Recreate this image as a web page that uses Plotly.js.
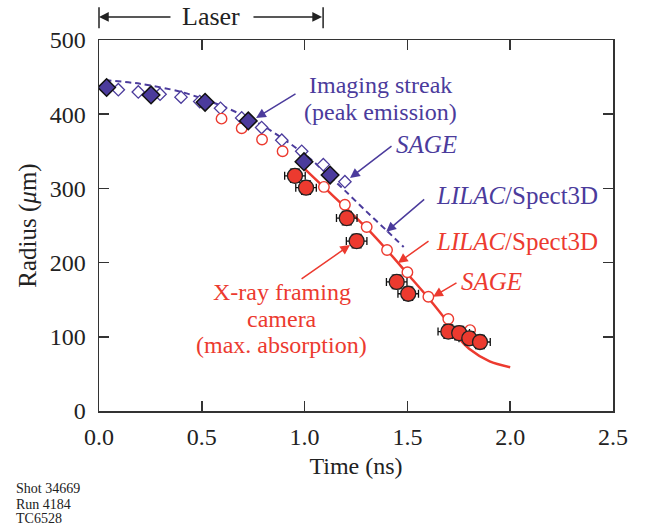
<!DOCTYPE html>
<html><head><meta charset="utf-8">
<script src="https://cdn.plot.ly/plotly-3.0.1.min.js"></script>
<style>body{margin:0;background:#fff}</style>
</head><body><div id="chart" style="width:647px;height:526px"></div>
<script>
// Imaging streak (peak emission) - filled diamonds
const streakTime = [0.037, 0.253, 0.516, 0.726, 0.997, 1.124];
const streakRadius = [436, 426, 416, 391, 336, 318];
// SAGE (blue, open diamonds)
const sageBlueTime = [0.094, 0.191, 0.297, 0.399, 0.49, 0.591, 0.694, 0.791, 0.889, 0.986, 1.091, 1.196];
const sageBlueRadius = [433, 430, 427, 423, 417, 408, 395, 382, 365, 350, 332, 309];
// LILAC/Spect3D (blue dashed)
const lilacBlueTime = [0.03, 0.2, 0.4, 0.6, 0.8, 1.0, 1.1, 1.2, 1.3, 1.4, 1.482];
const lilacBlueRadius = [446, 441, 430, 411, 384, 346, 322, 296, 269, 243, 221];
// SAGE (red, open circles)
const sageRedTime = [0.596, 0.694, 0.793, 0.893, 1.094, 1.196, 1.302, 1.401, 1.5, 1.602, 1.699, 1.805];
const sageRedRadius = [394, 381, 366, 350, 302, 278, 248, 217, 187, 154, 124, 109];
// LILAC/Spect3D (red solid)
const lilacRedTime = [0.99, 1.1, 1.2, 1.3, 1.4, 1.5, 1.6, 1.7, 1.75, 1.8, 1.9, 2.0];
const lilacRedRadius = [329, 300, 274, 247, 217, 185, 153, 118, 98, 84, 67, 59];
// X-ray framing camera (max. absorption) - filled circles with error bars
const xrayTime = [0.953, 1.007, 1.205, 1.253, 1.448, 1.504, 1.699, 1.752, 1.801, 1.853];
const xrayRadius = [317, 301, 260, 229, 174, 158, 107, 105, 98, 93];
const xrayTimeErr = [0.05, 0.05, 0.05, 0.05, 0.05, 0.05, 0.05, 0.05, 0.05, 0.05];
const xrayRadiusErr = [9, 9, 9, 9, 9, 9, 9, 9, 9, 9];

const BLUE = '#4B3B9C';
const RED = '#EC3A2F';
const FONT = 'Liberation Serif, Times New Roman, serif';

const traces = [
  {x: lilacBlueTime, y: lilacBlueRadius, mode: 'lines', type: 'scatter',
   line: {color: BLUE, width: 2, dash: '6px,4px', shape: 'spline', smoothing: 0.8}, hoverinfo: 'skip'},
  {x: lilacRedTime, y: lilacRedRadius, mode: 'lines', type: 'scatter',
   line: {color: RED, width: 2.5, shape: 'spline', smoothing: 0.8}, hoverinfo: 'skip'},
  {x: sageBlueTime, y: sageBlueRadius, mode: 'markers', type: 'scatter',
   marker: {symbol: 'diamond', size: 9.5, color: '#fff', line: {color: BLUE, width: 1.3}}},
  {x: sageRedTime, y: sageRedRadius, mode: 'markers', type: 'scatter',
   marker: {symbol: 'circle', size: 10.5, color: '#fff', line: {color: RED, width: 1.4}}},
  {x: streakTime, y: streakRadius, mode: 'markers', type: 'scatter',
   marker: {symbol: 'diamond', size: 13.5, color: BLUE, line: {color: '#111', width: 1.5}}},
  {x: xrayTime, y: xrayRadius, mode: 'markers', type: 'scatter',
   error_x: {type: 'data', array: xrayTimeErr, color: '#111', thickness: 1.3, width: 4},
   error_y: {type: 'data', array: xrayRadiusErr, color: '#111', thickness: 1.3, width: 5},
   marker: {symbol: 'circle', size: 15, color: RED, line: {color: '#222', width: 1.3}}}
];

function arrow(x, y, ax, ay, color) {
  return {x: x, y: y, ax: ax, ay: ay, xref: 'x', yref: 'y', axref: 'x', ayref: 'y',
    text: '', showarrow: true, arrowhead: 2, arrowsize: 1.3, arrowwidth: 1.5, arrowcolor: color};
}
function label(x, y, text, color, size) {
  return {x: x, y: y, xref: 'x', yref: 'y', text: text, showarrow: false,
    xanchor: 'center', yanchor: 'middle', font: {family: FONT, size: size || 25, color: color}};
}

const annotations = [
  arrow(0.764, 395, 0.963, 428.6, BLUE),
  label(1.367, 440, 'Imaging streak', BLUE, 24),
  label(1.367, 403.6, '(peak emission)', BLUE, 24),
  arrow(1.221, 314, 1.43, 358.5, BLUE),
  label(1.595, 358.5, '<i>SAGE</i>', BLUE),
  arrow(1.397, 241.6, 1.589, 287, BLUE),
  label(2.033, 291, '<i>LILAC</i>/Spect3D', BLUE),
  arrow(1.454, 199.5, 1.61, 230.5, RED),
  label(2.033, 229, '<i>LILAC</i>/Spect3D', RED),
  arrow(1.625, 154, 1.746, 174, RED),
  label(1.911, 174, '<i>SAGE</i>', RED),
  arrow(1.221, 223.7, 0.978, 176.5, RED),
  label(0.89, 160.4, 'X-ray framing', RED, 24),
  label(0.89, 124.5, 'camera', RED, 24),
  label(0.89, 88.5, '(max. absorption)', RED, 24),
  // Laser arrows
  {x: 0.0, y: 1.062, xref: 'x', yref: 'paper', ax: 0.355, ay: 0, axref: 'x', ayref: 'pixel',
   text: '', showarrow: true, arrowhead: 2, arrowsize: 1.3, arrowwidth: 1.5, arrowcolor: '#222'},
  {x: 1.085, y: 1.062, xref: 'x', yref: 'paper', ax: 0.744, ay: 0, axref: 'x', ayref: 'pixel',
   text: '', showarrow: true, arrowhead: 2, arrowsize: 1.3, arrowwidth: 1.5, arrowcolor: '#222'},
  {x: 0.545, y: 1.062, xref: 'x', yref: 'paper', text: 'Laser', showarrow: false,
   xanchor: 'center', yanchor: 'middle', font: {family: FONT, size: 26, color: '#222'}},
  // run info
  {x: -0.165, y: -0.2102, xref: 'paper', yref: 'paper', text: 'Shot 34669', showarrow: false,
   xanchor: 'left', yanchor: 'middle', font: {family: FONT, size: 14, color: '#222'}},
  {x: -0.165, y: -0.2507, xref: 'paper', yref: 'paper', text: 'Run 4184', showarrow: false,
   xanchor: 'left', yanchor: 'middle', font: {family: FONT, size: 14, color: '#222'}},
  {x: -0.165, y: -0.2911, xref: 'paper', yref: 'paper', text: 'TC6528', showarrow: false,
   xanchor: 'left', yanchor: 'middle', font: {family: FONT, size: 14, color: '#222'}}
];

const shapes = [
  {type: 'line', xref: 'paper', yref: 'paper', x0: 0, x1: 0, y0: 1.032, y1: 1.088, line: {color: '#222', width: 1.5}},
  {type: 'line', xref: 'paper', yref: 'paper', x0: 0.436, x1: 0.436, y0: 1.032, y1: 1.088, line: {color: '#222', width: 1.5}}
];

const axisCommon = {
  showgrid: false, zeroline: false, showline: true, mirror: 'ticks',
  linecolor: '#333', linewidth: 1.5, ticks: 'inside', ticklen: 10, tickwidth: 1.5, tickcolor: '#333',
  tickfont: {family: FONT, size: 24, color: '#222'}
};

const layout = {
  width: 647, height: 526,
  margin: {l: 99, r: 34, t: 40, b: 115},
  paper_bgcolor: '#fff', plot_bgcolor: '#fff',
  showlegend: false,
  font: {family: FONT, color: '#222'},
  xaxis: Object.assign({}, axisCommon, {range: [0, 2.5], dtick: 0.5, tick0: 0, tickformat: '.1f',
    ticklabelstandoff: 4,
    title: {text: 'Time (ns)', font: {family: FONT, size: 24, color: '#222'}, standoff: 8}}),
  yaxis: Object.assign({}, axisCommon, {range: [0, 500], dtick: 100, tick0: 0,
    ticklabelstandoff: 7,
    title: {text: 'Radius (<i>μ</i>m)', font: {family: FONT, size: 25, color: '#222'}, standoff: 6}}),
  annotations: annotations,
  shapes: shapes
};

Plotly.newPlot('chart', traces, layout, {staticPlot: true, displayModeBar: false});
</script>
</body></html>
